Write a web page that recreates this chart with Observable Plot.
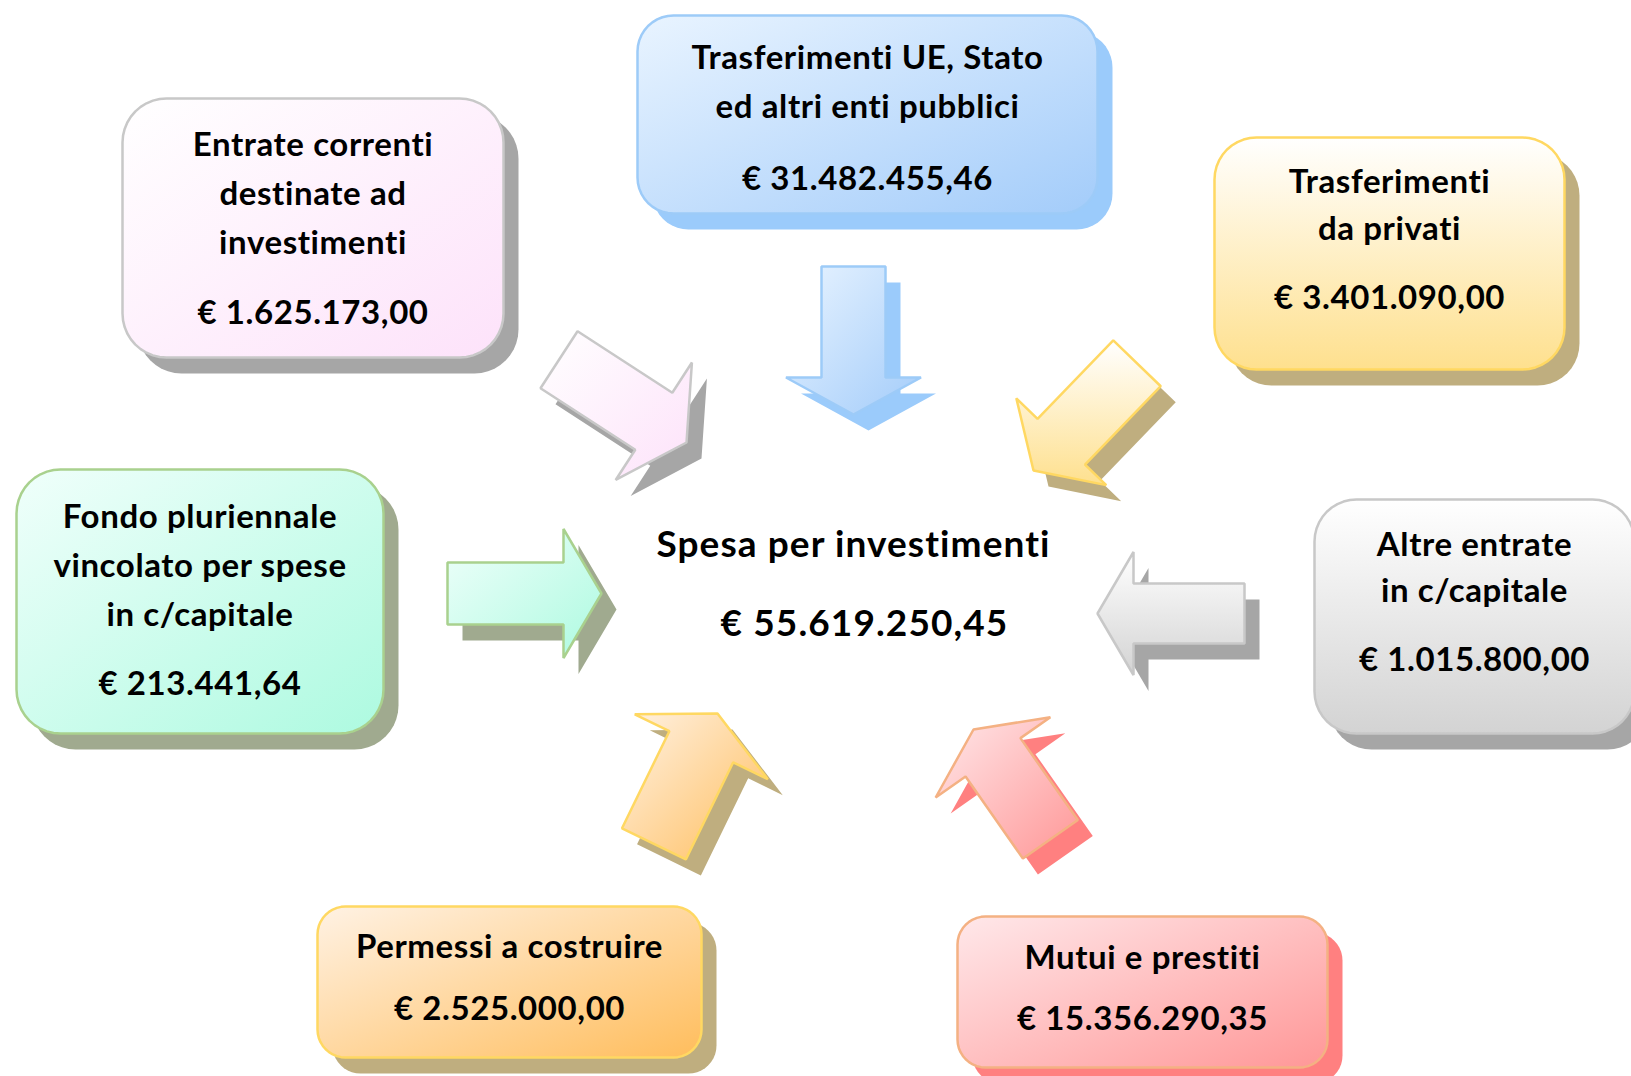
<!DOCTYPE html>
<html>
<head>
<meta charset="utf-8">
<script src="https://cdn.jsdelivr.net/npm/d3@7"></script>
<script src="https://cdn.jsdelivr.net/npm/@observablehq/plot@0.6"></script>
<style>
  html, body { margin: 0; padding: 0; background: #ffffff; overflow: hidden; }
  #chart svg { display: block; }
  #chart svg text { font-variant-ligatures: none; font-feature-settings: "liga" 0, "clig" 0; }
</style>
</head>
<body>
<div id="chart"></div>
<script>
// ---------- DATA ----------
const categories = [
  "Entrate correnti\ndestinate ad\ninvestimenti",
  "Trasferimenti UE, Stato\ned altri enti pubblici",
  "Trasferimenti\nda privati",
  "Fondo pluriennale\nvincolato per spese\nin c/capitale",
  "Altre entrate\nin c/capitale",
  "Permessi a costruire",
  "Mutui e prestiti"
];
const values = [1625173.00, 31482455.46, 3401090.00, 213441.64, 1015800.00, 2525000.00, 15356290.35];
const centerLabel = "Spesa per investimenti";
const centerValue = 55619250.45;

// ---------- STYLE / LAYOUT ----------
const W = 1631, H = 1076;
const FONT = "Lato, 'Open Sans', sans-serif";
const palette = [
  {from: "#ffffff", to: "#fde2fa", dir: "diag", stroke: "#c8c8c8", shadow: "#a6a6a6"},
  {from: "#e9f4ff", to: "#a3ccfa", dir: "diag", stroke: "#9dcbf8", shadow: "#9bcbfb"},
  {from: "#ffffff", to: "#fee08e", dir: "vert", stroke: "#ffd862", shadow: "#bfae7f"},
  {from: "#f0fffb", to: "#adfae0", dir: "diag", stroke: "#a9d18e", shadow: "#a0aa8f"},
  {from: "#ffffff", to: "#d3d3d3", dir: "vert", stroke: "#c8c8c8", shadow: "#a6a6a6"},
  {from: "#fff2e4", to: "#ffbd5c", dir: "diag", stroke: "#ffd862", shadow: "#bfae7f"},
  {from: "#ffe8ea", to: "#ff9797", dir: "diag", stroke: "#f4b183", shadow: "#ff8080"}
];
// box geometry: [x1, y1, x2, y2, corner radius, first-line y, line gap, value y]
const boxLayout = [
  [122, 98, 503, 357, 44, 145, 49, 313],
  [637, 15, 1097, 213, 36, 58, 49, 179],
  [1214, 137, 1564, 369, 42, 182, 47, 298],
  [16, 469, 383, 733, 44, 517, 49, 684],
  [1314, 499, 1634, 733, 42, 545, 46, 660],
  [317, 906, 701, 1057, 28, 947, 0, 1009],
  [957, 916, 1327, 1067, 28, 958, 0, 1019]
];
// arrow geometry: [tipX, tipY, angleDeg, length, shaftW, headW, headL]
const arrowLayout = [
  [686, 442, 33, 152, 68, 140, 39],
  [853, 414, 90, 148, 64, 135, 37],
  [1033, 470, 134, 149, 66, 125, 40],
  [601, 593, 0, 154, 62, 129, 38],
  [1097, 613, 180, 147, 60, 123, 36],
  [717, 713, -64, 145, 71, 148, 37],
  [973, 729, -125, 134, 67, 140, 34]
];
const SHADOW_DX = 15, SHADOW_DY = 16;
// center label: [label x, label y, value x, value y]
const centerPos = [853, 545, 864, 624];
const BOX_FONT = 33, CENTER_FONT = 37;

// ---------- HELPERS ----------
const itLocale = d3.formatLocale({decimal: ",", thousands: ".", grouping: [3], currency: ["€ ", ""]});
const fmt = itLocale.format("$,.2f");

function roundRect(x1, y1, x2, y2, r, dx = 0, dy = 0) {
  const pts = [];
  const corners = [[x2 - r, y1 + r, -90], [x2 - r, y2 - r, 0], [x1 + r, y2 - r, 90], [x1 + r, y1 + r, 180]];
  for (const [cx, cy, a0] of corners) {
    for (let i = 0; i <= 10; i++) {
      const a = (a0 + i * 9) * Math.PI / 180;
      pts.push({x: cx + r * Math.cos(a) + dx, y: cy + r * Math.sin(a) + dy});
    }
  }
  return pts;
}

function arrowPts([tx, ty, deg, L, sw, hw, hl], dx = 0, dy = 0) {
  const t = deg * Math.PI / 180;
  const d = [Math.cos(t), Math.sin(t)], p = [-Math.sin(t), Math.cos(t)];
  const bx = tx - L * d[0], by = ty - L * d[1];
  const local = [[0, -sw / 2], [L - hl, -sw / 2], [L - hl, -hw / 2], [L, 0], [L - hl, hw / 2], [L - hl, sw / 2], [0, sw / 2]];
  return local.map(([u, v]) => ({x: bx + u * d[0] + v * p[0] + dx, y: by + u * d[1] + v * p[1] + dy}));
}

// ---------- MARKS ----------
const marks = [];
categories.forEach((cat, i) => {
  const [x1, y1, x2, y2, r] = boxLayout[i];
  const c = palette[i];
  marks.push(Plot.line(roundRect(x1, y1, x2, y2, r, SHADOW_DX, SHADOW_DY), {x: "x", y: "y", curve: "linear-closed", fill: c.shadow, stroke: "none"}));
  marks.push(Plot.line(roundRect(x1, y1, x2, y2, r), {x: "x", y: "y", curve: "linear-closed", fill: `url(#grad${i})`, stroke: c.stroke, strokeWidth: 2.5}));
  marks.push(Plot.line(arrowPts(arrowLayout[i], SHADOW_DX, SHADOW_DY), {x: "x", y: "y", curve: "linear-closed", fill: c.shadow, stroke: "none"}));
  marks.push(Plot.line(arrowPts(arrowLayout[i]), {x: "x", y: "y", curve: "linear-closed", fill: `url(#grad${i})`, stroke: c.stroke, strokeWidth: 2.5, strokeLinejoin: "miter"}));
});

const textRows = [];
categories.forEach((cat, i) => {
  const [x1, , x2, , , y0, gap, vy] = boxLayout[i];
  const cx = (x1 + Math.min(x2, W + 3)) / 2;
  cat.split("\n").forEach((line, j) => textRows.push({x: cx, y: y0 + j * gap, t: line, size: BOX_FONT}));
  textRows.push({x: cx, y: vy, t: fmt(values[i]), size: BOX_FONT});
});
textRows.push({x: centerPos[0], y: centerPos[1], t: centerLabel, size: CENTER_FONT});
textRows.push({x: centerPos[2], y: centerPos[3], t: fmt(centerValue), size: CENTER_FONT});

marks.push(Plot.text(textRows.filter(d => d.size === BOX_FONT), {
  x: "x", y: "y", text: "t", fontSize: BOX_FONT, fontWeight: "bold", fontFamily: FONT, fill: "#000000", lineAnchor: "middle", className: "boxtext"
}));
marks.push(Plot.text(textRows.filter(d => d.size === CENTER_FONT), {
  x: "x", y: "y", text: "t", fontSize: CENTER_FONT, fontWeight: "bold", fontFamily: FONT, fill: "#000000", lineAnchor: "middle", className: "centertext"
}));

const svg = Plot.plot({
  width: W, height: H, margin: 0,
  x: {domain: [0, W], range: [0, W], axis: null},
  y: {domain: [0, H], range: [0, H], axis: null},
  style: {background: "#ffffff", overflow: "hidden"},
  marks
});

// letter spacing to approximate the wider original typeface
d3.select(svg).selectAll(".boxtext text").style("letter-spacing", "0.6px");
d3.select(svg).selectAll(".centertext text").style("letter-spacing", "1.1px");

// gradient defs
const defs = d3.select(svg).insert("defs", ":first-child");
palette.forEach((c, i) => {
  const g = defs.append("linearGradient").attr("id", `grad${i}`)
    .attr("x1", 0).attr("y1", 0)
    .attr("x2", c.dir === "vert" ? 0 : 1).attr("y2", 1);
  g.append("stop").attr("offset", "0%").attr("stop-color", c.from);
  g.append("stop").attr("offset", "100%").attr("stop-color", c.to);
});

document.getElementById("chart").appendChild(svg);
</script>
</body>
</html>
